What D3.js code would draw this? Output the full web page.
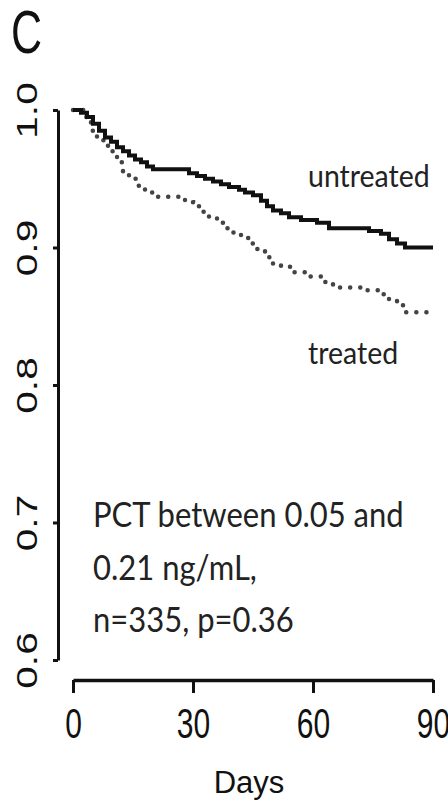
<!DOCTYPE html>
<html>
<head>
<meta charset="utf-8">
<script src="https://cdn.jsdelivr.net/npm/d3@7"></script>
<style>
  body { margin: 0; background: #fff; }
  svg { display: block; }
</style>
</head>
<body>
<div id="viz"></div>
<script>
// Kaplan-Meier steps: [day, survival]
const untreatedDays = [0, 2, 3.5, 5, 6.5, 8, 9.5, 11, 12.5, 14, 15.5, 17, 18.5, 20, 29, 31, 33, 35, 37, 39, 41.5, 43, 45, 47, 48.5, 50, 52, 54, 57, 61, 64, 74, 77, 79, 81, 83, 90];
const untreatedSurv = [1.0, 0.998, 0.995, 0.99, 0.985, 0.98, 0.977, 0.973, 0.970, 0.967, 0.964, 0.962, 0.959, 0.957, 0.954, 0.952, 0.950, 0.948, 0.946, 0.944, 0.942, 0.940, 0.938, 0.934, 0.930, 0.927, 0.925, 0.922, 0.920, 0.918, 0.914, 0.912, 0.910, 0.906, 0.903, 0.900, 0.900];

const treatedDays = [0, 3, 4.5, 6, 8, 9.5, 11, 12.5, 14, 16, 18, 20, 26.5, 28, 30, 32, 34, 36, 38, 40, 42, 44, 46, 48, 50, 52, 55, 59, 62, 65, 73, 77, 79, 81, 83, 90];
const treatedSurv = [1.0, 0.995, 0.985, 0.978, 0.974, 0.970, 0.962, 0.955, 0.950, 0.945, 0.940, 0.937, 0.935, 0.933, 0.930, 0.926, 0.922, 0.918, 0.914, 0.911, 0.907, 0.903, 0.899, 0.893, 0.888, 0.886, 0.882, 0.879, 0.875, 0.871, 0.869, 0.866, 0.862, 0.858, 0.853, 0.853];

const xTicks = [0, 30, 60, 90];
const yTicks = [0.6, 0.7, 0.8, 0.9, 1.0];
const noteLines = ["PCT between 0.05 and", "0.21 ng/mL,", "n=335, p=0.36"];

const W = 448, H = 804;
const arial = "'Liberation Sans', Arial, sans-serif";
const calibri = "Lato, 'Open Sans', sans-serif";

const svg = d3.select("#viz").append("svg")
  .attr("width", W)
  .attr("height", H);

const x = d3.scaleLinear().domain([0, 90]).range([73, 433]);
const y = d3.scaleLinear().domain([0.6, 1.0]).range([660, 110]);

//Panel letter
svg.append("text")
  .attr("transform", "translate(11,53) scale(1,1.4)")
  .style("font-family", arial)
  .style("font-size", "43px")
  .attr("fill", "#111")
  .text("C");

//Y axis (detached, to the left)
const yAxis = svg.append("g")
  .attr("transform", "translate(58,0)")
  .call(d3.axisLeft(y).tickValues(yTicks).tickFormat(d3.format(".1f")).tickSize(5).tickSizeOuter(0));
yAxis.select(".domain").attr("stroke-width", 3).attr("stroke", "#111");
yAxis.selectAll(".tick line").attr("stroke-width", 3).attr("stroke", "#111");
yAxis.selectAll(".tick text")
  .attr("x", null).attr("dy", null)
  .attr("text-anchor", "middle")
  .attr("transform", "translate(-21,0) rotate(-90) scale(1.4,1)")
  .style("font-family", arial)
  .style("font-size", "29px")
  .attr("fill", "#111");

//X axis (detached, below)
const xAxis = svg.append("g")
  .attr("transform", "translate(0,680)")
  .call(d3.axisBottom(x).tickValues(xTicks).tickSize(13).tickSizeOuter(0));
xAxis.select(".domain").attr("stroke-width", 3.5).attr("stroke", "#111");
xAxis.selectAll(".tick line").attr("stroke-width", 3).attr("stroke", "#111");
xAxis.selectAll(".tick text")
  .attr("y", null).attr("dy", null)
  .attr("transform", "translate(0,58) scale(1,1.4)")
  .style("font-family", arial)
  .style("font-size", "30px")
  .attr("fill", "#111");

svg.append("text")
  .attr("x", 249)
  .attr("y", 793)
  .attr("text-anchor", "middle")
  .style("font-family", arial)
  .style("font-size", "31px")
  .attr("fill", "#111")
  .text("Days");

//Curves
const line = d3.line()
  .x(d => x(d[0]))
  .y(d => y(d[1]))
  .curve(d3.curveStepAfter);

const treated = treatedDays.map((d, i) => [d, treatedSurv[i]]);
const untreated = untreatedDays.map((d, i) => [d, untreatedSurv[i]]);

svg.append("path")
  .datum(treated)
  .attr("d", line)
  .attr("fill", "none")
  .attr("stroke", "#444")
  .attr("stroke-width", 4.5)
  .attr("stroke-linecap", "round")
  .attr("stroke-dasharray", "0.1,10");

svg.append("path")
  .datum(untreated)
  .attr("d", line)
  .attr("fill", "none")
  .attr("stroke", "#111")
  .attr("stroke-width", 4);

//Curve labels
svg.append("text")
  .attr("transform", "translate(308,187) scale(1,1.1)")
  .style("font-family", calibri)
  .style("font-size", "28.5px")
  .attr("fill", "#222")
  .text("untreated");

svg.append("text")
  .attr("transform", "translate(308,364) scale(1,1.1)")
  .style("font-family", calibri)
  .style("font-size", "28.5px")
  .attr("fill", "#222")
  .text("treated");

//Annotation
const noteY = [527, 580, 632];
svg.selectAll(".note")
  .data(noteLines)
  .enter().append("text")
  .attr("class", "note")
  .attr("transform", (d, i) => `translate(93,${noteY[i]}) scale(1,1.1)`)
  .style("font-family", calibri)
  .style("font-size", "31px")
  .attr("fill", "#222")
  .text(d => d);
</script>
</body>
</html>
